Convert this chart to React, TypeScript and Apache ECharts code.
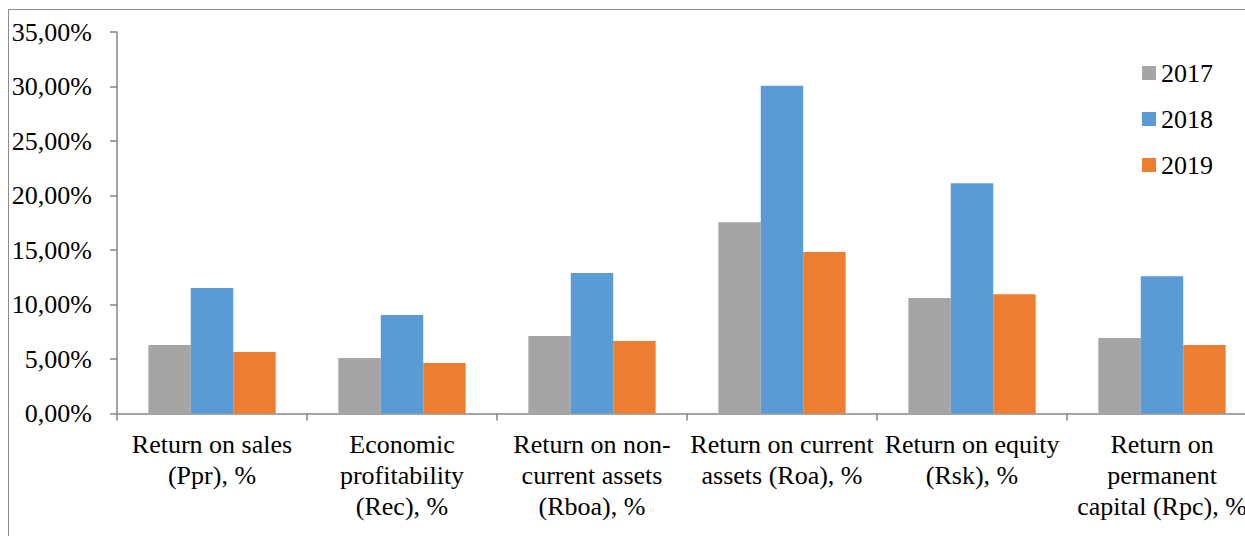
import React, { useEffect, useRef } from "react";
import * as echarts from "echarts";

const categories = [
  "Return on sales\n(Ppr), %",
  "Economic\nprofitability\n(Rec), %",
  "Return on non-\ncurrent assets\n(Rboa), %",
  "Return on current\nassets (Roa), %",
  "Return on equity\n(Rsk), %",
  "Return on\npermanent\ncapital (Rpc), %",
];
const seriesNames = ["2017", "2018", "2019"];
const values2017 = [6.28, 5.09, 7.11, 17.54, 10.6, 6.93];
const values2018 = [11.51, 9.04, 12.89, 30.07, 21.12, 12.6];
const values2019 = [5.64, 4.63, 6.65, 14.82, 10.94, 6.28];
const colors = ["#A5A5A5", "#5B9BD5", "#ED7D31"];

const FONT = "Times New Roman, Liberation Serif, DejaVu Serif, serif";

export default function App() {
  const ref = useRef<HTMLDivElement>(null);
  useEffect(() => {
    if (!ref.current) return;
    const chart = echarts.init(ref.current, undefined, { renderer: "svg" });
    const data = [values2017, values2018, values2019];
    chart.setOption({
      animation: false,
      backgroundColor: "#ffffff",
      textStyle: { fontFamily: FONT },
      graphic: [
        {
          type: "rect",
          shape: { x: 8.5, y: 9.5, width: 1400, height: 700 },
          style: { fill: "none", stroke: "#8c8c8c", lineWidth: 1 },
          silent: true,
          z: -1,
        },
      ],
      legend: {
        orient: "vertical",
        left: 1142,
        top: 60,
        padding: 0,
        itemWidth: 14,
        itemHeight: 14,
        itemGap: 20,
        icon: "rect",
        data: seriesNames,
        textStyle: { fontFamily: FONT, fontSize: 26, color: "#000", lineHeight: 26, padding: [0, 0, 0, 0] },
      },
      grid: {
        left: 117,
        top: 32,
        width: 1140,
        bottom: 122.5,
        containLabel: false,
        outerBoundsMode: "none",
      },
      xAxis: {
        type: "category",
        data: categories,
        axisLine: { lineStyle: { color: "#868686", width: 1.5 } },
        axisTick: { show: true, length: 7, lineStyle: { color: "#868686", width: 1.5 } },
        axisLabel: {
          interval: 0,
          margin: 15,
          fontFamily: FONT,
          fontSize: 26,
          lineHeight: 31,
          color: "#000",
          align: "center",
          hideOverlap: false,
        },
      },
      yAxis: {
        type: "value",
        min: 0,
        max: 35,
        interval: 5,
        splitLine: { show: false },
        axisLine: { show: true, lineStyle: { color: "#868686", width: 1.5 } },
        axisTick: { show: true, length: 7, lineStyle: { color: "#868686", width: 1.5 } },
        axisLabel: {
          margin: 25,
          fontFamily: FONT,
          fontSize: 26,
          color: "#000",
          formatter: (v: number) => v.toFixed(2).replace(".", ",") + "%",
        },
      },
      series: seriesNames.map((name, i) => ({
        name,
        type: "bar",
        data: data[i],
        barGap: "0%",
        barCategoryGap: "33%",
        itemStyle: { color: colors[i] },
      })),
    });
    return () => chart.dispose();
  }, []);
  return (
    <div
      ref={ref}
      style={{ position: "absolute", left: 0, top: 0, width: 1245, height: 536 }}
    />
  );
}
